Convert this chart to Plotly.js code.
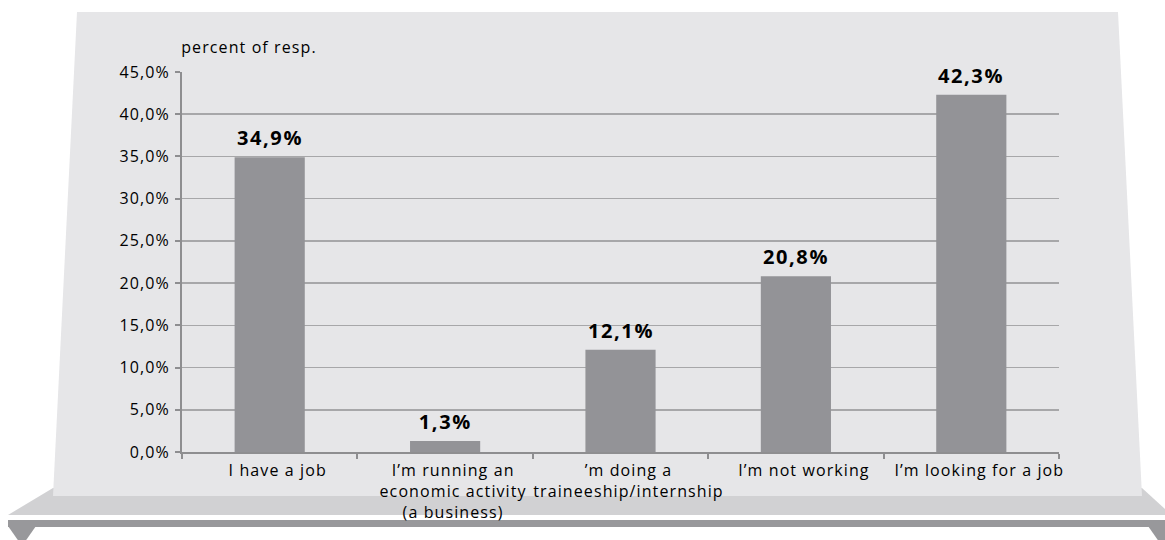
<!DOCTYPE html>
<html>
<head>
<meta charset="utf-8">
<script src="https://cdn.plot.ly/plotly-3.0.1.min.js"></script>
<style>
html,body{margin:0;padding:0;background:#fff;}
#chart{width:1165px;height:540px;}
#chart text{letter-spacing:1.1px;}
#chart tspan[style*="bold"]{letter-spacing:1.6px;}
</style>
</head>
<body>
<div id="chart"></div>
<script>
// ---- data ----
const categories = [
  "I have a job",
  "I\u2019m running an<br>economic activity<br>(a business)",
  "\u2019m doing a<br>traineeship/internship",
  "I\u2019m not working",
  "I\u2019m looking for a job"
];
const values = [34.9, 1.3, 12.1, 20.8, 42.3];
const yTickValues = [0, 5, 10, 15, 20, 25, 30, 35, 40, 45];
const yAxisTitle = "percent of resp.";

// ---- layout geometry ----
const W = 1165, H = 540;
const M = {l: 182, r: 106, t: 72, b: 88};
const pw = W - M.l - M.r, ph = H - M.t - M.b;
function P(x, y) { return ((x - M.l) / pw).toFixed(5) + ',' + (1 - (y - M.t) / ph).toFixed(5); }
function poly(pts) { return 'M' + pts.map(p => P(p[0], p[1])).join('L') + 'Z'; }

const fmt = v => v.toFixed(1).replace('.', ',') + '%';
const yTickText = yTickValues.map(fmt);
const FONT = "'Open Sans', 'Noto Sans', sans-serif";

const shapes = [
  // shelf
  {type: 'path', xref: 'paper', yref: 'paper', layer: 'below', line: {width: 0}, fillcolor: '#d1d1d3',
   path: poly([[53, 488], [1142, 488], [1165, 509], [1165, 515], [8, 515]])},
  // bottom bar
  {type: 'path', xref: 'paper', yref: 'paper', layer: 'below', line: {width: 0}, fillcolor: '#98989b',
   path: poly([[8, 520], [1165, 520], [1165, 527], [8, 527]])},
  // feet
  {type: 'path', xref: 'paper', yref: 'paper', layer: 'below', line: {width: 0}, fillcolor: '#98989b',
   path: poly([[8, 526], [36, 526], [22, 546]])},
  {type: 'path', xref: 'paper', yref: 'paper', layer: 'below', line: {width: 0}, fillcolor: '#98989b',
   path: poly([[1148, 526], [1176, 526], [1162, 546]])},
  // panel
  {type: 'path', xref: 'paper', yref: 'paper', layer: 'below', line: {width: 0}, fillcolor: '#e6e6e8',
   path: poly([[77, 12], [1118, 12], [1142, 496], [53, 496]])}
];

const annotations = values.map((v, i) => ({
  x: categories[i], y: v, xref: 'x', yref: 'y',
  text: '<b>' + fmt(v) + '</b>', showarrow: false,
  yanchor: 'bottom', yshift: 4,
  font: {family: FONT, size: 20, color: '#000'}
}));
annotations.push({
  xref: 'paper', yref: 'paper', x: 0, y: 1, xanchor: 'left', yanchor: 'middle',
  xshift: 6, yshift: 25, showarrow: false, text: yAxisTitle,
  font: {family: FONT, size: 16, color: '#000'}
});

const trace = {
  type: 'bar', x: categories, y: values,
  marker: {color: '#939397', line: {width: 0}},
  hoverinfo: 'skip'
};

const layout = {
  width: W, height: H,
  margin: M,
  paper_bgcolor: '#ffffff',
  plot_bgcolor: 'rgba(0,0,0,0)',
  showlegend: false,
  bargap: 0.6,
  font: {family: FONT, size: 16, color: '#000'},
  xaxis: {
    type: 'category', showgrid: false, zeroline: false,
    showline: true, linecolor: '#8e8e90', linewidth: 2,
    ticks: 'outside', tickson: 'boundaries', ticklen: 5, tickwidth: 2, tickcolor: '#8e8e90',
    tickangle: 0,
    tickfont: {family: FONT, size: 16, color: '#000'},
    ticklabelstandoff: 3,
    ticklabelshift: 8,
    fixedrange: true
  },
  yaxis: {
    range: [0, 45], tickmode: 'array', tickvals: yTickValues, ticktext: yTickText,
    showgrid: true, gridcolor: '#a7a7a9', gridwidth: 1.5, zeroline: false,
    showline: true, linecolor: '#8e8e90', linewidth: 2,
    ticks: 'outside', ticklen: 5, tickwidth: 2, tickcolor: '#8e8e90',
    tickfont: {family: FONT, size: 16, color: '#000'},
    ticklabelstandoff: 2,
    fixedrange: true
  },
  shapes: shapes,
  annotations: annotations
};

Plotly.newPlot('chart', [trace], layout, {staticPlot: true, displayModeBar: false});
</script>
</body>
</html>
